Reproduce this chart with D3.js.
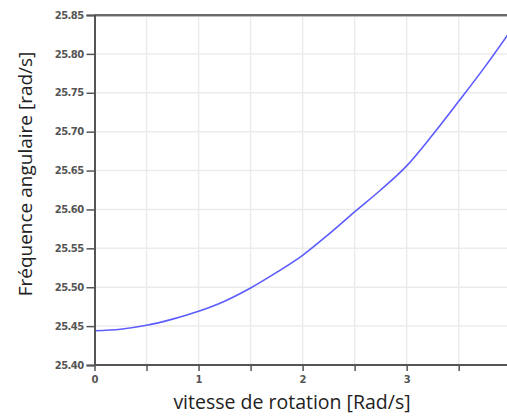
<!DOCTYPE html>
<html>
<head>
<meta charset="utf-8">
<script src="https://cdn.jsdelivr.net/npm/d3@7"></script>
<style>
  body { margin: 0; background: #fff; }
  svg { display: block; }
</style>
</head>
<body>
<svg id="chart" width="507" height="416"></svg>
<script>
const xValues = [0, 0.25, 0.5, 0.75, 1, 1.25, 1.5, 1.75, 2, 2.25, 2.5, 2.75, 3, 3.25, 3.5, 3.75, 4];
const yValues = [25.444, 25.446, 25.451, 25.459, 25.469, 25.482, 25.499, 25.519, 25.541, 25.568, 25.597, 25.625, 25.656, 25.696, 25.739, 25.783, 25.830];
const xTicks = [0, 1, 2, 3, 4];
const xGrid = [0.5, 1, 1.5, 2, 2.5, 3, 3.5, 4];
const yTicks = [25.40, 25.45, 25.50, 25.55, 25.60, 25.65, 25.70, 25.75, 25.80, 25.85];
const xTitle = "vitesse de rotation [Rad/s]";
const yTitle = "Fréquence angulaire [rad/s]";

const svg = d3.select("#chart");
const mLeft = 94.5, mRight = 510.7, mTop = 15, mBottom = 365;
const x = d3.scaleLinear().domain([0, 4]).range([mLeft, mRight]);
const y = d3.scaleLinear().domain([25.40, 25.85]).range([mBottom, mTop]);

// gridlines
svg.append("g").selectAll("line").data(xGrid).join("line")
  .attr("x1", d => x(d)).attr("x2", d => x(d))
  .attr("y1", mTop).attr("y2", mBottom)
  .attr("stroke", "#ebebeb").attr("stroke-width", 1.5);
svg.append("g").selectAll("line").data(yTicks.slice(1, -1)).join("line")
  .attr("x1", mLeft).attr("x2", 507)
  .attr("y1", d => y(d)).attr("y2", d => y(d))
  .attr("stroke", "#ebebeb").attr("stroke-width", 1.5);

// top frame line
svg.append("line").attr("x1", mLeft).attr("x2", 507).attr("y1", mTop).attr("y2", mTop)
  .attr("stroke", "#6a6a6a").attr("stroke-width", 2);
svg.append("line").attr("x1", mLeft).attr("x2", 507).attr("y1", mTop + 1.5).attr("y2", mTop + 1.5)
  .attr("stroke", "#bdbdbd").attr("stroke-width", 1);

// curve
const line = d3.line().x((d, i) => x(xValues[i])).y(d => y(d)).curve(d3.curveMonotoneX);
svg.append("path").datum(yValues)
  .attr("d", line)
  .attr("fill", "none").attr("stroke", "#5c5cff").attr("stroke-width", 1.6);

// y axis
const yAxis = d3.axisLeft(y).tickValues(yTicks).tickFormat(d3.format(".2f")).tickSize(8).tickPadding(3);
const gy = svg.append("g").attr("transform", `translate(${mLeft},0)`).call(yAxis);
gy.select(".domain").attr("stroke", "#555").attr("stroke-width", 2);
gy.selectAll(".tick line").attr("stroke", "#555").attr("stroke-width", 1.5);
gy.selectAll(".tick text").attr("fill", "#555").style("font-family", "DejaVu Sans, sans-serif")
  .style("font-size", "10px").style("font-weight", "bold").style("letter-spacing", "-0.6px");

// x axis
const xAxis = d3.axisBottom(x).tickValues(xGrid.concat([0])).tickFormat(d => Number.isInteger(d) ? d : "").tickSize(6).tickPadding(5).tickSizeOuter(0);
const gx = svg.append("g").attr("transform", `translate(0,${mBottom})`).call(xAxis);
gx.select(".domain").attr("stroke", "#555").attr("stroke-width", 2).attr("d", `M${mLeft},0H507`);
gx.selectAll(".tick line").attr("stroke", "#555").attr("stroke-width", 1.5);
gx.selectAll(".tick text").attr("fill", "#555").style("font-family", "DejaVu Sans, sans-serif")
  .style("font-size", "10px").style("font-weight", "bold");

// titles
svg.append("text").attr("x", 292).attr("y", 409).attr("text-anchor", "middle")
  .style("font-family", "Open Sans, sans-serif").style("font-size", "19.5px").attr("fill", "#222")
  .text(xTitle);
svg.append("text").attr("transform", "translate(32,174) rotate(-90)").attr("text-anchor", "middle")
  .style("font-family", "Open Sans, sans-serif").style("font-size", "19px").attr("fill", "#222")
  .text(yTitle);
</script>
</body>
</html>
